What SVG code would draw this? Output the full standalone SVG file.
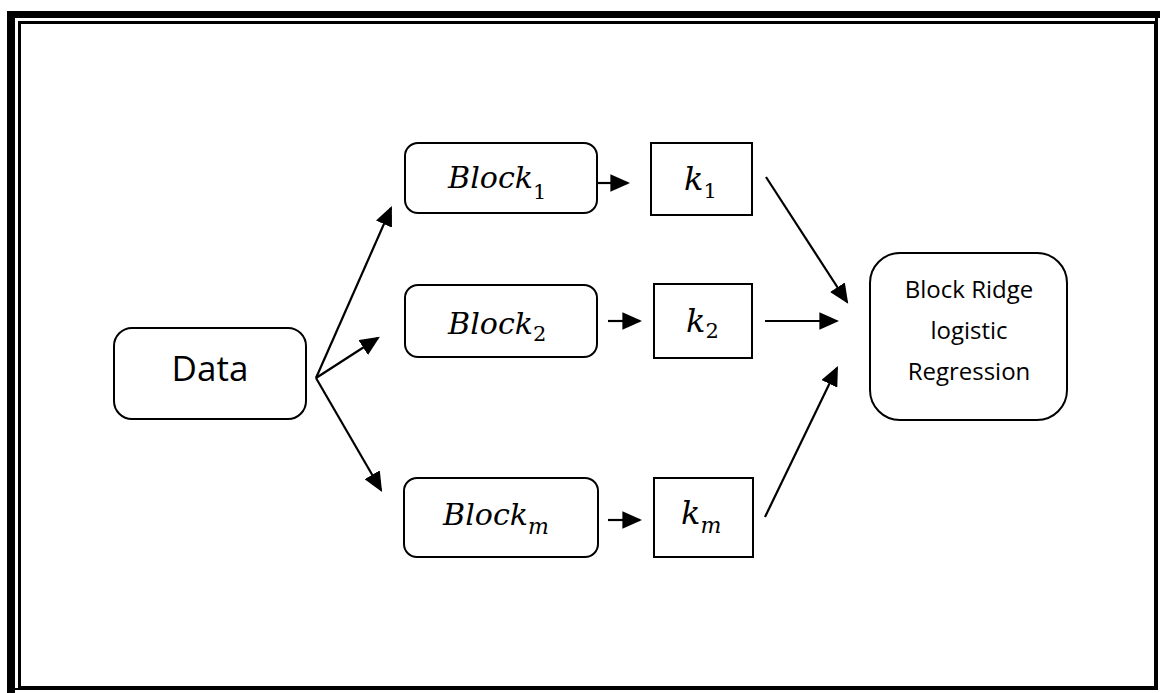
<svg xmlns="http://www.w3.org/2000/svg" width="1160" height="693" viewBox="0 0 1160 693">
<style>
.node{fill:#fff;stroke:#000;stroke-width:2}
.lbl{font-family:"Open Sans","Noto Sans",sans-serif;fill:#000;text-anchor:middle}
.math{font-family:"DejaVu Serif",serif;font-style:italic;fill:#000}
.sub{font-family:"DejaVu Serif",serif;font-style:normal;fill:#000}
.edge{stroke:#000;stroke-width:2.2;fill:none;marker-end:url(#ah)}
</style>
<defs>
<marker id="ah" markerWidth="9" markerHeight="8" refX="8" refY="4" orient="auto" markerUnits="strokeWidth">
<path d="M0,0 L9,4 L0,8 Z" fill="#000"/>
</marker>
</defs>
<rect width="1160" height="693" fill="#fff"/>
<g id="border">
<line x1="11" y1="11" x2="11" y2="693" stroke="#000" stroke-width="8"/>
<line x1="7" y1="14.5" x2="1160" y2="14.5" stroke="#000" stroke-width="7"/>
<rect x="19.5" y="22.5" width="1136" height="665" fill="none" stroke="#000" stroke-width="3"/>
<line x1="1156.5" y1="18" x2="1156.5" y2="690" stroke="#000" stroke-width="3"/>
<line x1="7" y1="689" x2="1158" y2="689" stroke="#000" stroke-width="2"/>
</g>
<g id="connectors">
<line class="edge" x1="316" y1="378" x2="391" y2="208"/>
<line class="edge" x1="316" y1="378" x2="378" y2="338"/>
<line class="edge" x1="316" y1="378" x2="381" y2="490"/>
<line class="edge" x1="598" y1="183" x2="628" y2="183"/>
<line class="edge" x1="608" y1="321" x2="640" y2="321"/>
<line class="edge" x1="608" y1="520" x2="640" y2="520"/>
<line class="edge" x1="766" y1="177" x2="847" y2="302"/>
<line class="edge" x1="765" y1="321" x2="837" y2="321"/>
<line class="edge" x1="765" y1="517" x2="837" y2="368"/>
</g>
<g id="data">
<rect class="node" x="114" y="328" width="192" height="91" rx="18"/>
<text class="lbl" x="210" y="381" font-size="35">Data</text>
</g>
<g id="block1">
<rect class="node" x="405" y="143" width="192" height="70" rx="13"/>
<text x="448" y="188"><tspan class="math" font-size="30" textLength="85" lengthAdjust="spacingAndGlyphs">Block</tspan><tspan class="sub" font-size="21" dy="11">1</tspan></text>
</g>
<g id="k1">
<rect class="node" x="651" y="143" width="101" height="72" rx="0"/>
<text x="684" y="190"><tspan class="math" font-size="32">k</tspan><tspan class="sub" font-size="21" dy="8">1</tspan></text>
</g>
<g id="block2">
<rect class="node" x="405" y="285" width="192" height="72" rx="13"/>
<text x="448" y="334"><tspan class="math" font-size="30" textLength="85" lengthAdjust="spacingAndGlyphs">Block</tspan><tspan class="sub" font-size="21" dy="7">2</tspan></text>
</g>
<g id="k2">
<rect class="node" x="654" y="284" width="98" height="74"/>
<text x="686" y="332"><tspan class="math" font-size="32">k</tspan><tspan class="sub" font-size="21" dy="6">2</tspan></text>
</g>
<g id="blockm">
<rect class="node" x="404" y="478" width="194" height="79" rx="13"/>
<text x="443" y="525"><tspan class="math" font-size="30" textLength="85" lengthAdjust="spacingAndGlyphs">Block</tspan><tspan class="math" font-size="22" dy="9">m</tspan></text>
</g>
<g id="km">
<rect class="node" x="654" y="478" width="99" height="79"/>
<text x="681" y="524"><tspan class="math" font-size="32">k</tspan><tspan class="math" font-size="22" dy="9">m</tspan></text>
</g>
<g id="brlr">
<rect class="node" x="870" y="253" width="197" height="167" rx="30"/>
<text class="lbl" x="969" y="298" font-size="24">Block Ridge</text>
<text class="lbl" x="969" y="339" font-size="24">logistic</text>
<text class="lbl" x="969" y="380" font-size="24">Regression</text>
</g>
</svg>
